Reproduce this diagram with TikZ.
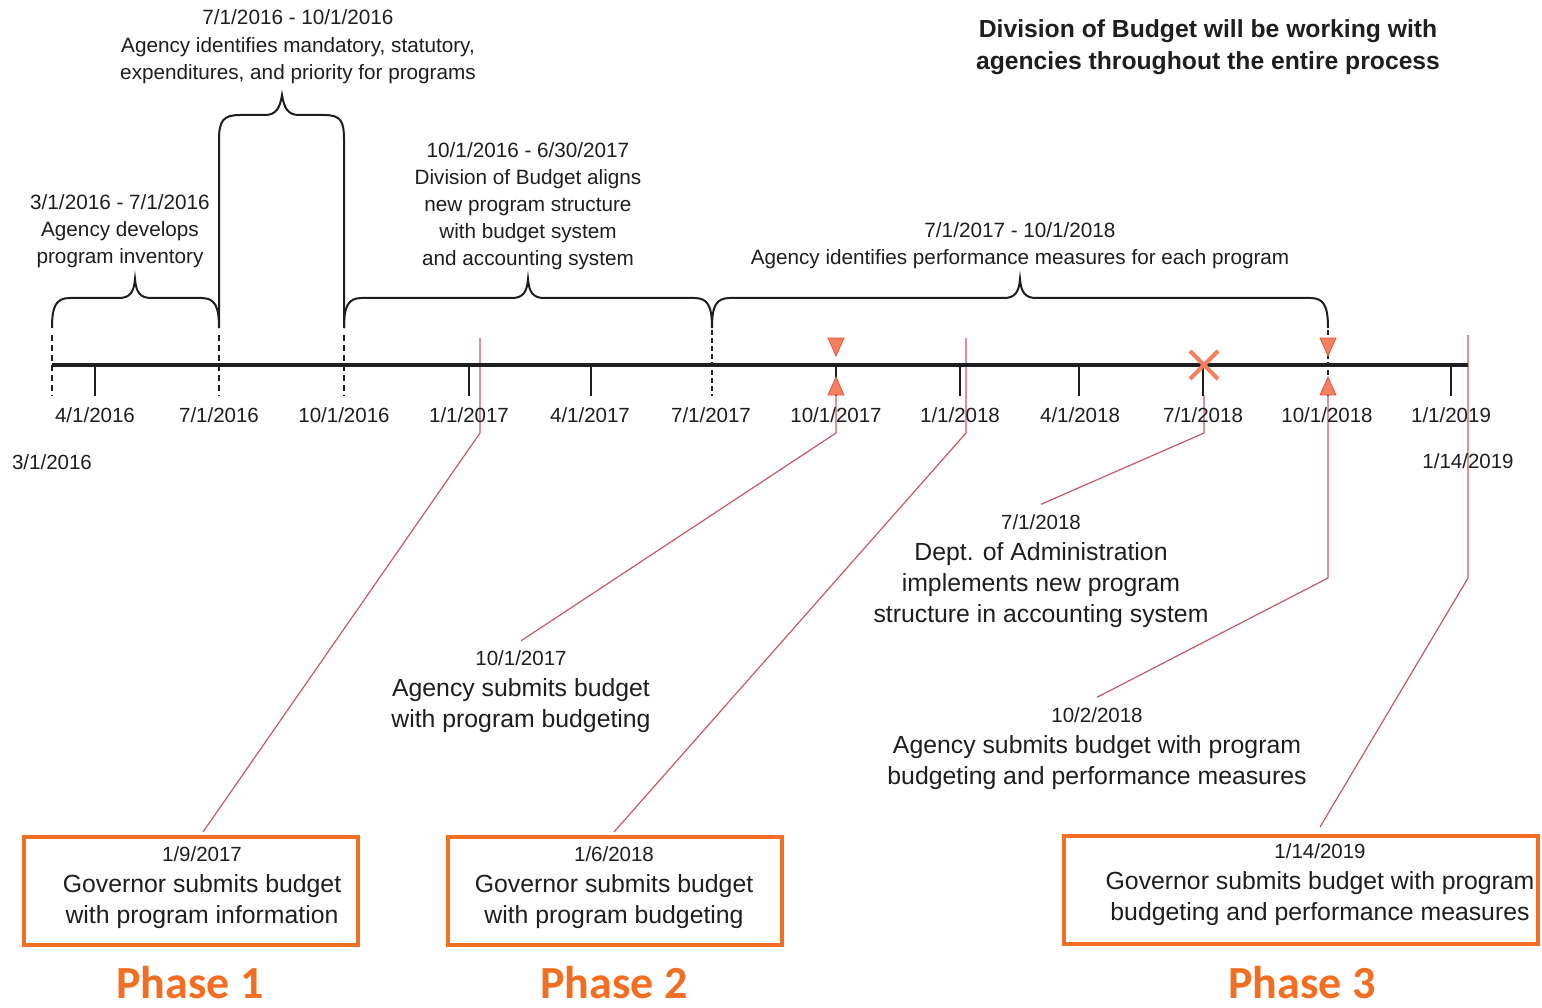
\documentclass[tikz,border=0pt]{standalone}
\usepackage{fontspec}
\setmainfont{Liberation Sans}
\newfontfamily\phasefont{Carlito}
\usetikzlibrary{calc}
\definecolor{txt}{RGB}{30,30,30}
\definecolor{orng}{RGB}{242,110,34}
\definecolor{connc}{RGB}{205,85,105}
\definecolor{markf}{RGB}{244,128,96}
\definecolor{markd}{RGB}{226,88,70}
\newcommand\tlbrace[6]{\draw[brc] (#1,#4) .. controls (#1,#5+8) and (#1+4,#5) .. (#1+18,#5) -- (#3-16,#5) .. controls (#3-5,#5) and (#3-1,#5-6) .. (#3,#6) .. controls (#3+1,#5-6) and (#3+5,#5) .. (#3+16,#5) -- (#2-18,#5) .. controls (#2-4,#5) and (#2,#5+8) .. (#2,#4);}
\begin{document}
\begin{tikzpicture}[x=1pt,y=-1pt,
  axislbl/.style={font=\fontsize{20.5}{24}\selectfont, text=txt, inner sep=0pt},
  blk/.style={align=center, font=\fontsize{20.7}{27}\selectfont, text=txt, inner sep=0pt},
  bigblk/.style={align=center, font=\fontsize{24.8}{31}\selectfont, text=txt, inner sep=0pt},
  hdr/.style={align=center, font=\fontsize{24.7}{32}\selectfont\bfseries, text=txt, inner sep=0pt},
  gbox/.style={draw=orng, line width=4pt, minimum height=108pt, inner sep=0pt},
  brc/.style={draw=txt, line width=2pt},
  tickln/.style={draw=txt, line width=1.6pt},
  dtick/.style={draw=txt, line width=1.5pt, dash pattern=on 6pt off 4pt},
  connector/.style={draw=connc, line width=1.2pt},
  phase/.style={font=\phasefont\bfseries\fontsize{46}{50}\selectfont, text=orng, inner sep=0pt, anchor=base},
  tri/.style={fill=markf, draw=markd, line width=0.8pt}
]
\useasboundingbox[fill=white] (0,0) rectangle (1542,1008);

% ---------- text blocks above the axis ----------
\node[blk, font=\fontsize{20.7}{27.5}\selectfont] (t1) at (298,47) {7/1/2016 - 10/1/2016\\Agency identifies mandatory, statutory,\\expenditures, and priority for programs};
\node[blk] (t2) at (120,231) {3/1/2016 - 7/1/2016\\Agency develops\\program inventory};
\node[blk] (t3) at (528,206) {10/1/2016 - 6/30/2017\\Division of Budget aligns\\new program structure\\with budget system\\and accounting system};
\node[blk] (t4) at (1020,245.5) {7/1/2017 - 10/1/2018\\Agency identifies performance measures for each program};
\node[hdr] (hd) at (1208,47) {Division of Budget will be working with\\agencies throughout the entire process};

% ---------- braces ----------
\tlbrace{52}{219}{135}{328}{298}{279}
\draw[brc] (219,328) -- (219,140) .. controls (219,121) and (223,115) .. (240,115) -- (265,115) .. controls (276,115) and (280,108) .. (282,95) .. controls (284,108) and (288,115) .. (299,115) -- (324,115) .. controls (341,115) and (344,121) .. (344,140) -- (344,328);
\tlbrace{344}{712}{528}{328}{298}{279}
\tlbrace{712}{1328}{1020}{328}{298}{279}

% ---------- connectors ----------
\coordinate (a1) at (480,338); \coordinate (b1) at (480,433);
\coordinate (a2) at (836,395); \coordinate (b2) at (836,433);
\coordinate (a3) at (966,338); \coordinate (b3) at (966,433);
\coordinate (a4) at (1204,395); \coordinate (b4) at (1204,433);
\coordinate (a5) at (1328,395); \coordinate (b5) at (1328,578);
\coordinate (a6) at (1468,335); \coordinate (b6) at (1468,578);

% ---------- lower text blocks and boxes ----------
\node[bigblk] (t6) at (521,692) {{\fontsize{20.5}{31}\selectfont 10/1/2017}\\Agency submits budget\\with program budgeting};
\node[bigblk] (t7) at (1041,571) {{\fontsize{20.5}{31}\selectfont 7/1/2018}\\Dept. of Administration\\implements new program\\structure in accounting system};
\node[bigblk] (t8) at (1097,748.5) {{\fontsize{20.5}{31}\selectfont 10/2/2018}\\Agency submits budget with program\\budgeting and performance measures};

\node[gbox, minimum width=334pt] (box1) at (191,891) {};
\node[gbox, minimum width=334pt] (box2) at (615,891) {};
\node[gbox, minimum width=474pt] (box3) at (1301,890) {};
\node[bigblk] (t9) at (202,888) {{\fontsize{20.5}{31}\selectfont 1/9/2017}\\Governor submits budget\\with program information};
\node[bigblk] (t10) at (614,888) {{\fontsize{20.5}{31}\selectfont 1/6/2018}\\Governor submits budget\\with program budgeting};
\node[bigblk] (t11) at (1320,885) {{\fontsize{20.5}{31}\selectfont 1/14/2019}\\Governor submits budget with program\\budgeting and performance measures};

\draw[connector] (a1) -- (b1) -- ($(box1.north)+(12,-3)$);
\draw[connector] (a2) -- (b2) -- ($(t6.north)+(0,-10)$);
\draw[connector] (a3) -- (b3) -- ($(box2.north)+(-1,-3)$);
\draw[connector] (a4) -- (b4) -- ($(t7.north)+(0,-10)$);
\draw[connector] (a5) -- (b5) -- ($(t8.north)+(0,-10)$);
\draw[connector] (a6) -- (b6) -- ($(box3.north)+(19,-7)$);

% ---------- axis ----------
\coordinate (ax0) at (52,365); \coordinate (ax1) at (1468,365);
\foreach \x in {52,219,344} \draw[dtick] (\x,335) -- (\x,396);
\foreach \x in {712,1328} \draw[dtick, line width=2pt, dash pattern=on 5pt off 3pt] (\x,330) -- (\x,396);
\foreach \x in {95,469,591,836,960,1079,1203,1451} \draw[tickln] (\x,365) -- (\x,396);
\draw[draw=txt, line width=4pt] (ax0) -- (ax1);

% markers
\foreach \x in {836,1328} {
  \draw[tri] (\x-8,338) -- (\x+8,338) -- (\x,356) -- cycle;
  \draw[tri] (\x-8,395) -- (\x+8,395) -- (\x,377) -- cycle;
}
\draw[draw=markf, line width=4pt] (1190,351) -- (1218,379) (1190,379) -- (1218,351);

% axis labels
\node[axislbl] (l1) at (95,415) {4/1/2016};
\node[axislbl] (l2) at (219,415) {7/1/2016};
\node[axislbl] (l3) at (344,415) {10/1/2016};
\node[axislbl] (l4) at (469,415) {1/1/2017};
\node[axislbl] (l5) at (590,415) {4/1/2017};
\node[axislbl] (l6) at (711,415) {7/1/2017};
\node[axislbl] (l7) at (836,415) {10/1/2017};
\node[axislbl] (l8) at (960,415) {1/1/2018};
\node[axislbl] (l9) at (1080,415) {4/1/2018};
\node[axislbl] (l10) at (1203,415) {7/1/2018};
\node[axislbl] (l11) at (1327,415) {10/1/2018};
\node[axislbl] (l12) at (1451,415) {1/1/2019};
\node[axislbl] (l0) at (52,462) {3/1/2016};
\node[axislbl] (l13) at (1468,461) {1/14/2019};

% phases
\node[phase] (ph1) at (190,998) {Phase 1};
\node[phase] (ph2) at (614,998) {Phase 2};
\node[phase] (ph3) at (1302,998) {Phase 3};
\end{tikzpicture}
\end{document}
